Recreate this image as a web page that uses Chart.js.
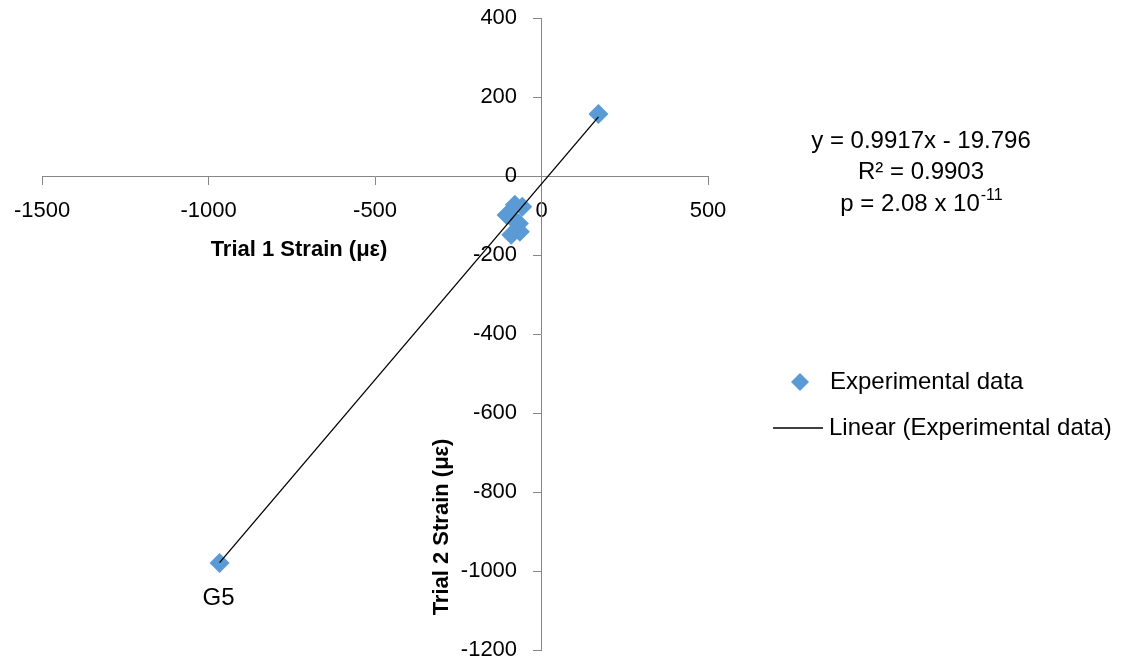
<!DOCTYPE html>
<html>
<head>
<meta charset="utf-8">
<script src="https://cdn.jsdelivr.net/npm/chart.js@4.4.1/dist/chart.umd.min.js"></script>
<style>
  html, body { margin: 0; padding: 0; background: #fff; }
  #wrap { width: 1123px; height: 664px; }
</style>
</head>
<body>
<div id="wrap"><canvas id="strainChart" width="1123" height="664"></canvas></div>
<script>
// strain readings, trial 1 vs trial 2 (micro-strain)
const trial1Strain = [-967, 171, -80, -58, -105, -68, -91, -65, -83];
const trial2Strain = [-980, 157, -73, -78, -99, -120, -149, -141, -111];
const pointLabels = ["G5", "", "", "", "", "", "", "", ""];

// fit reported on the chart
const slope = 0.9917;
const intercept = -19.796;
const equationLines = ["y = 0.9917x - 19.796", "R\u00B2 = 0.9903"];
const pValueBase = "p = 2.08 x 10";
const pValueExp = "-11";

const xTicks = [-1500, -1000, -500, 0, 500];
const yTicks = [-1200, -1000, -800, -600, -400, -200, 0, 200, 400];

const xTitle = "Trial 1 Strain (\u03BC\u03B5)";
const yTitle = "Trial 2 Strain (\u03BC\u03B5)";
const seriesName = "Experimental data";
const fitName = "Linear (Experimental data)";

const FONT = "'Liberation Sans', Arial, sans-serif";
const BLUE = "#5B9BD5";
const AXIS = "#868686";

const points = trial1Strain.map((x, i) => ({ x: x, y: trial2Strain[i] }));
const xMin = Math.min(...trial1Strain);
const xMax = Math.max(...trial1Strain);
const fitPoints = [xMin, xMax].map(x => ({ x: x, y: slope * x + intercept }));

function diamond(ctx, x, y, r) {
  ctx.beginPath();
  ctx.moveTo(x - r, y);
  ctx.lineTo(x, y - r);
  ctx.lineTo(x + r, y);
  ctx.lineTo(x, y + r);
  ctx.closePath();
  ctx.fill();
}

const extras = {
  id: "extras",
  afterDraw(chart) {
    const ctx = chart.ctx;
    const xs = chart.scales.x;
    const ys = chart.scales.y;
    ctx.save();
    ctx.fillStyle = "#000";
    ctx.textBaseline = "middle";

    // axis titles
    ctx.font = "bold 22px " + FONT;
    ctx.textAlign = "center";
    ctx.fillText(xTitle, 299, 250);
    ctx.save();
    ctx.translate(442, 527);
    ctx.rotate(-Math.PI / 2);
    ctx.fillText(yTitle, 0, 0);
    ctx.restore();

    // data labels
    ctx.font = "24px " + FONT;
    pointLabels.forEach((lab, i) => {
      if (!lab) return;
      const px = xs.getPixelForValue(trial1Strain[i]);
      const py = ys.getPixelForValue(trial2Strain[i]);
      ctx.fillText(lab, px - 1, py + 35);
    });

    // trendline equation
    ctx.fillText(equationLines[0], 921, 141);
    ctx.fillText(equationLines[1], 921, 172);
    const baseW = ctx.measureText(pValueBase).width;
    ctx.font = "16px " + FONT;
    const expW = ctx.measureText(pValueExp).width;
    const startX = 921 - (baseW + expW) / 2;
    ctx.textAlign = "left";
    ctx.font = "24px " + FONT;
    ctx.fillText(pValueBase, startX, 204);
    ctx.font = "16px " + FONT;
    ctx.fillText(pValueExp, startX + baseW + 1, 196);

    // legend
    ctx.font = "24px " + FONT;
    ctx.fillStyle = BLUE;
    diamond(ctx, 800, 382, 9);
    ctx.fillStyle = "#000";
    ctx.fillText(seriesName, 830, 382);
    ctx.strokeStyle = "#000";
    ctx.lineWidth = 1.3;
    ctx.beginPath();
    ctx.moveTo(773, 428);
    ctx.lineTo(823, 428);
    ctx.stroke();
    ctx.fillText(fitName, 829, 428);
    ctx.restore();
  }
};

new Chart(document.getElementById("strainChart"), {
  type: "scatter",
  data: {
    datasets: [
      {
        label: seriesName,
        data: points,
        pointStyle: "rectRot",
        pointRadius: 10,
        pointHoverRadius: 10,
        backgroundColor: BLUE,
        borderColor: BLUE,
        borderWidth: 0,
        order: 2
      },
      {
        label: fitName,
        data: fitPoints,
        showLine: true,
        borderColor: "#000",
        borderWidth: 1.3,
        pointRadius: 0,
        fill: false,
        order: 1
      }
    ]
  },
  options: {
    responsive: false,
    animation: false,
    layout: { padding: { left: 42, right: 415, top: 18, bottom: 14 } },
    plugins: {
      legend: { display: false },
      tooltip: { enabled: false }
    },
    scales: {
      x: {
        type: "linear",
        position: { y: 0 },
        min: -1500,
        max: 500,
        afterBuildTicks(scale) { scale.ticks = xTicks.map(v => ({ value: v })); },
        grid: { drawOnChartArea: false, drawTicks: true, tickLength: 8, color: AXIS },
        border: { display: true, color: AXIS, width: 1 },
        ticks: {
          color: "#000", font: { family: FONT, size: 22 }, padding: 14, maxRotation: 0,
          callback: v => String(v)
        }
      },
      y: {
        type: "linear",
        position: { x: 0 },
        min: -1200,
        max: 400,
        afterBuildTicks(scale) { scale.ticks = yTicks.map(v => ({ value: v })); },
        grid: { drawOnChartArea: false, drawTicks: true, tickLength: 8, color: AXIS },
        border: { display: true, color: AXIS, width: 1 },
        ticks: {
          color: "#000", font: { family: FONT, size: 22 }, padding: 0,
          // centred axis puts labels flush on the line, so pad with spaces
          callback: v => String(v) + "    "
        }
      }
    }
  },
  plugins: [extras]
});
</script>
</body>
</html>
